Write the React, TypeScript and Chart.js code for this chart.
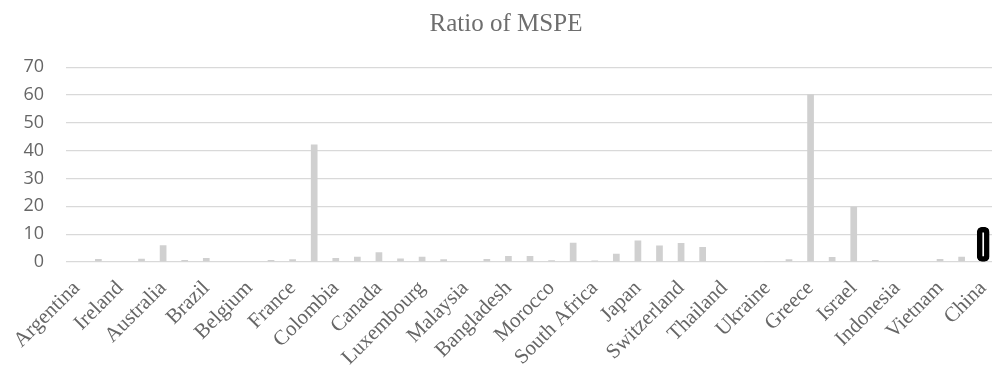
import React, { useEffect, useRef } from "react";
import { Chart, registerables } from "chart.js";

Chart.register(...registerables);

// Every other category carries a visible name; the ones in between stay unnamed.
const namedCountries = [
  "Argentina", "Ireland", "Australia", "Brazil", "Belgium", "France",
  "Colombia", "Canada", "Luxembourg", "Malaysia", "Bangladesh", "Morocco",
  "South Africa", "Japan", "Switzerland", "Thailand", "Ukraine", "Greece",
  "Israel", "Indonesia", "Vietnam", "China",
];

// Ratio of MSPE for each unit, in category order (the last one is China).
const mspeRatio = [
  0, 1.1, 0.3, 1.2, 6.0, 0.7, 1.4, 0, 0, 0.7,
  1.0, 42.2, 1.4, 1.9, 3.5, 1.3, 1.9, 1.0, 0, 1.1,
  2.2, 2.2, 0.6, 6.9, 0.5, 3.0, 7.7, 5.9, 6.8, 5.4,
  0, 0.3, 0.2, 1.0, 60.3, 1.8, 19.9, 0.7, 0, 0,
  1.1, 1.9, 12.5,
];

const yTicks = [0, 10, 20, 30, 40, 50, 60, 70];

const labels: string[] = [];
namedCountries.forEach((name, i) => {
  labels.push(name);
  if (i < namedCountries.length - 1) labels.push("");
});

const highlightIndex = mspeRatio.length - 1;
const otherValues = mspeRatio.map((v, i) => (i === highlightIndex ? null : v));
const highlightValues = mspeRatio.map((v, i) => (i === highlightIndex ? v : null));

const serif = "'Liberation Serif', 'Times New Roman', serif";

export default function App() {
  const canvasRef = useRef<HTMLCanvasElement | null>(null);

  useEffect(() => {
    document.body.style.margin = "0";
    document.body.style.overflow = "hidden";
    const canvas = canvasRef.current;
    if (!canvas) return;
    const chart = new Chart(canvas, {
      type: "bar",
      data: {
        labels,
        datasets: [
          {
            data: otherValues,
            backgroundColor: "#d0d0d0",
            borderWidth: 0,
            grouped: false,
            barPercentage: 0.31,
            categoryPercentage: 1,
          },
          {
            data: highlightValues,
            backgroundColor: "#ffffff",
            borderColor: "#000000",
            borderWidth: 5.5,
            borderSkipped: false,
            borderRadius: 5,
            grouped: false,
            barThickness: 12,
          },
        ],
      },
      options: {
        animation: false,
        responsive: false,
        maintainAspectRatio: false,
        layout: { padding: { left: 18, right: 2, top: 0, bottom: 6 } },
        plugins: {
          legend: { display: false },
          tooltip: { enabled: false },
          title: {
            display: true,
            text: "Ratio of MSPE",
            color: "#6e6e6e",
            font: { family: serif, size: 25, weight: "normal" },
            padding: { top: 9, bottom: 28.3 },
          },
        },
        scales: {
          x: {
            grid: { display: false },
            border: { display: false },
            afterFit: (scale: any) => {
              scale.paddingLeft = 0;
              scale.paddingRight = 0;
              scale.height = 105;
            },
            ticks: {
              autoSkip: false,
              minRotation: 45,
              maxRotation: 45,
              color: "#666666",
              padding: 6,
              font: { family: serif, size: 21 },
            },
          },
          y: {
            min: 0,
            max: 70,
            afterBuildTicks: (scale: any) => {
              scale.ticks = yTicks.map((v) => ({ value: v }));
            },
            afterFit: (scale: any) => {
              scale.width = 48;
            },
            grid: { color: "#d9d9d9", lineWidth: 1.3, drawTicks: false },
            border: { display: false },
            ticks: {
              color: "#666666",
              padding: 22,
              font: { family: "'Open Sans', sans-serif", size: 18 },
            },
          },
        },
      },
    });
    return () => chart.destroy();
  }, []);

  return (
    <div style={{ width: 996, height: 373 }}>
      <canvas ref={canvasRef} width={996} height={373} style={{ display: "block" }} />
    </div>
  );
}
